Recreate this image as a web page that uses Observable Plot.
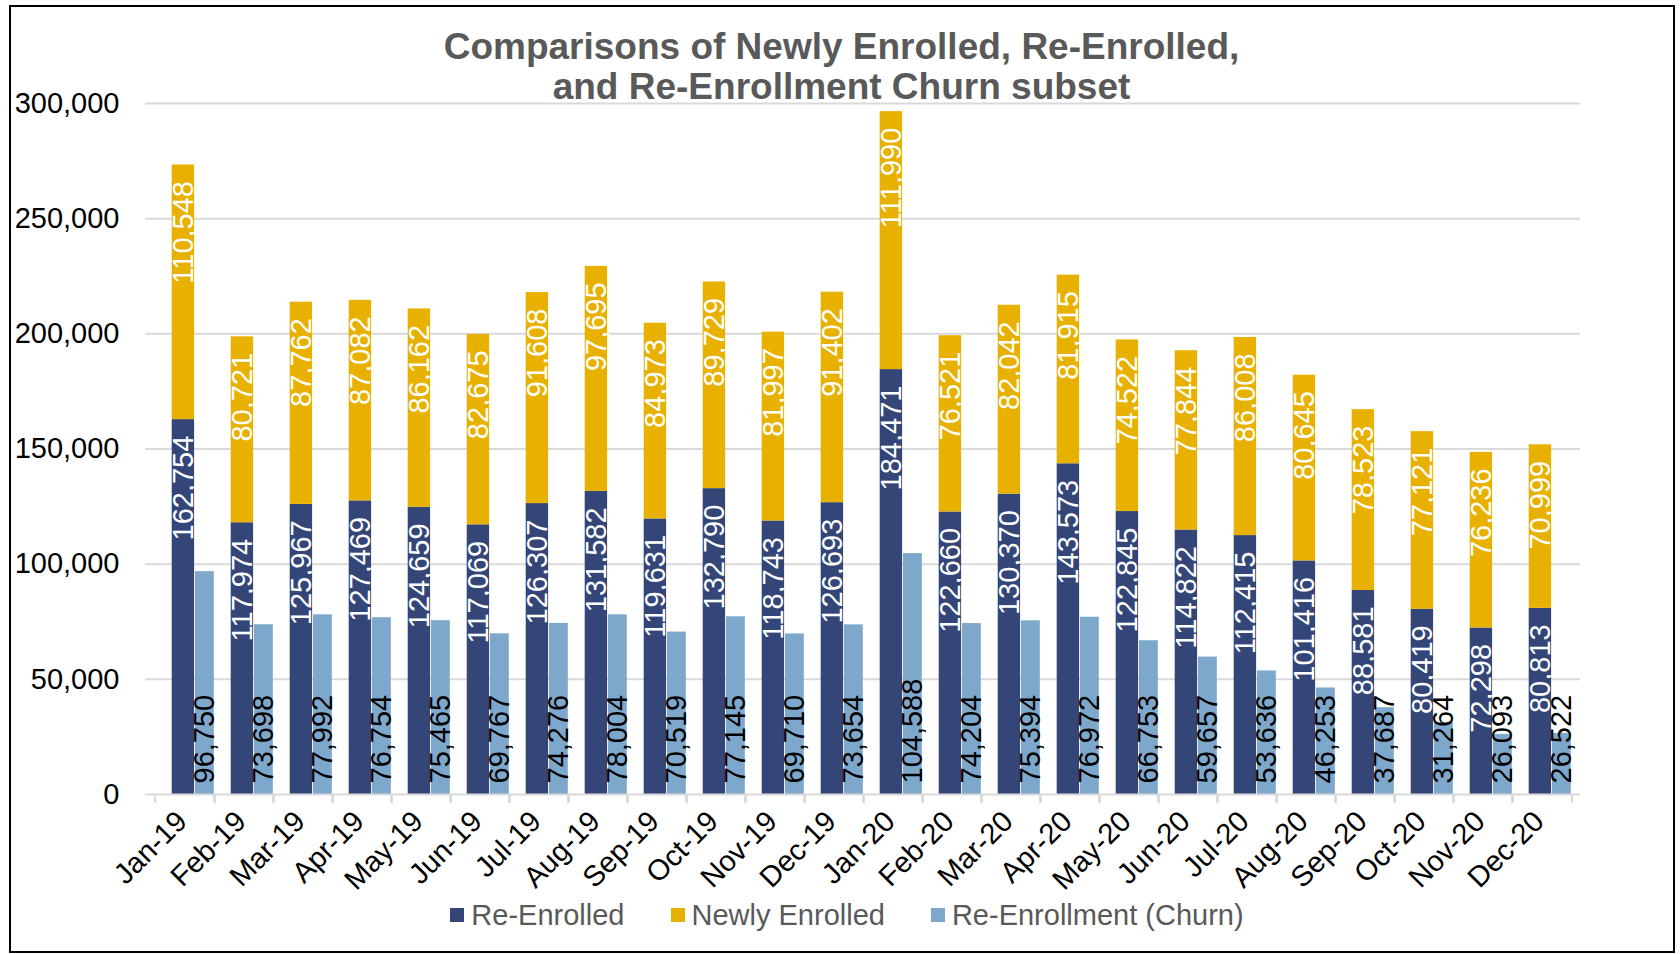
<!DOCTYPE html>
<html>
<head>
<meta charset="utf-8">
<script src="https://cdn.jsdelivr.net/npm/d3@7"></script>
<script src="https://cdn.jsdelivr.net/npm/@observablehq/plot@0.6"></script>
<style>
  html, body { margin: 0; padding: 0; background: #fff; }
  #wrap { position: relative; width: 1680px; height: 954px; overflow: hidden; font-family: "Liberation Sans", Arial, sans-serif; }
  #frame { position: absolute; left: 9px; top: 5px; width: 1662px; height: 944px; border: 2px solid #000; box-sizing: content-box; pointer-events: none; }
  #chart { position: absolute; left: 0; top: 0; }
  #title { position: absolute; left: 10px; width: 1663px; top: 27px; text-align: center; font-weight: bold; font-size: 37px; line-height: 40px; color: #595959; }
  #legend { position: absolute; left: 0; width: 1680px; top: 900px; padding-left: 14px; box-sizing: border-box; display: flex; justify-content: center; align-items: center; font-size: 29px; line-height: 30px; color: #595959; }
  .item { display: flex; align-items: center; margin: 0 23px; }
  .sw { width: 14px; height: 14px; margin-right: 7px; }
</style>
</head>
<body>
<div id="wrap">
  <div id="chart"></div>
  <div id="title">Comparisons of Newly Enrolled, Re-Enrolled,<br>and Re-Enrollment Churn subset</div>
  <div id="legend"></div>
  <div id="frame"></div>
</div>
<script>
const months = ["Jan-19","Feb-19","Mar-19","Apr-19","May-19","Jun-19","Jul-19","Aug-19","Sep-19","Oct-19","Nov-19","Dec-19",
                "Jan-20","Feb-20","Mar-20","Apr-20","May-20","Jun-20","Jul-20","Aug-20","Sep-20","Oct-20","Nov-20","Dec-20"];
const reEnrolled = [162754,117974,125967,127469,124659,117069,126307,131582,119631,132790,118743,126693,
                    184471,122660,130370,143573,122845,114822,112415,101416,88581,80419,72298,80813];
const newlyEnrolled = [110548,80721,87762,87082,86162,82675,91608,97695,84973,89729,81997,91402,
                       111990,76521,82042,81915,74522,77844,86008,80645,78523,77121,76236,70999];
const churn = [96750,73698,77992,76754,75465,69767,74276,78004,70519,77145,69710,73654,
               104588,74204,75394,76972,66753,59657,53636,46253,37687,31264,26093,26522];
const seriesNames = ["Re-Enrolled","Newly Enrolled","Re-Enrollment (Churn)"];
const seriesColors = ["#344677","#E8B100","#7DA7CB"];
const yTicks = [0,50000,100000,150000,200000,250000,300000];

const stacked = [];
months.forEach((m,i) => stacked.push({month:m, series:seriesNames[0], value:reEnrolled[i]}));
months.forEach((m,i) => stacked.push({month:m, series:seriesNames[1], value:newlyEnrolled[i]}));
const churnRows = months.map((m,i) => ({month:m, series:seriesNames[2], value:churn[i]}));

const fmt = d3.format(",");
const W = 1680, H = 954, ML = 145, MR = 100;
const bw = (W - ML - MR) / months.length;

const plot = Plot.plot({
  width: W, height: H,
  marginLeft: ML, marginRight: MR, marginTop: 103, marginBottom: 160,
  style: {fontFamily: "'Liberation Sans', Arial, sans-serif", fontSize: "29px", color: "#000", background: "transparent"},
  x: {type: "band", domain: months, padding: 0, label: null},
  y: {domain: [0, 300000], label: null},
  color: {domain: seriesNames, range: seriesColors},
  marks: [
    Plot.gridY(yTicks.filter(d => d > 0), {stroke: "#D9D9D9", strokeOpacity: 1, strokeWidth: 2}),
    Plot.barY(stacked, {x: "month", y: "value", fill: "series", insetLeft: 16.7, insetRight: 19.9}),
    Plot.barY(churnRows, {x: "month", y: "value", fill: "series", insetLeft: 40, insetRight: 0.2}),
    Plot.ruleY([0], {stroke: "#D9D9D9", strokeWidth: 2}),
    Plot.axisX({tickSize: 9, tickFormat: () => "", label: null, dx: bw / 2, stroke: "#D9D9D9", strokeWidth: 2, strokeOpacity: 1}),
    Plot.axisX({tickSize: 9, tickFormat: () => "", label: null, dx: -bw / 2, stroke: "#D9D9D9", strokeWidth: 2, strokeOpacity: 1}),
    Plot.axisX({tickSize: 0, tickRotate: -45, tickPadding: 22, label: null, dx: -3, fontSize: 29, fill: "#000"}),
    Plot.axisY({ticks: yTicks, tickFormat: d => fmt(d), label: null, tickSize: 0, tickPadding: 26, fontSize: 29, fill: "#000"}),
    Plot.text(stacked, Plot.stackY2({x: "month", y: "value", text: d => fmt(d.value), rotate: -90, textAnchor: "end", lineAnchor: "middle", dx: -1.5, dy: 16, fill: "#fff", fontSize: 29})),
    Plot.text(churnRows, {x: "month", y: () => 0, text: d => fmt(d.value), rotate: -90, textAnchor: "start", lineAnchor: "middle", dx: 20, dy: -11, fill: "#000", fontSize: 29})
  ]
});
document.getElementById("chart").appendChild(plot);

const legend = document.getElementById("legend");
seriesNames.forEach((name, i) => {
  const item = document.createElement("div");
  item.className = "item";
  const sw = document.createElement("div");
  sw.className = "sw";
  sw.style.background = seriesColors[i];
  const lab = document.createElement("span");
  lab.textContent = name;
  item.appendChild(sw); item.appendChild(lab);
  legend.appendChild(item);
});
</script>
</body>
</html>
